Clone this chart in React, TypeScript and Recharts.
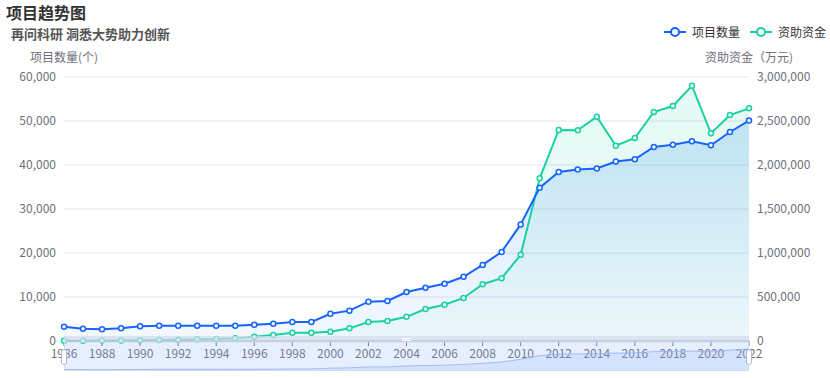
import { ComposedChart, AreaChart, Area, Line, XAxis, YAxis, CartesianGrid } from 'recharts';

const years = [
  1986, 1987, 1988, 1989, 1990, 1991, 1992, 1993, 1994, 1995, 1996, 1997, 1998,
  1999, 2000, 2001, 2002, 2003, 2004, 2005, 2006, 2007, 2008, 2009, 2010, 2011,
  2012, 2013, 2014, 2015, 2016, 2017, 2018, 2019, 2020, 2021, 2022,
];

// 项目数量(个)
const projects = [
  3250, 2800, 2650, 2880, 3330, 3480, 3480, 3480, 3480, 3480, 3700, 3930, 4320,
  4320, 6200, 6900, 8930, 9090, 11140, 12100, 13000, 14600, 17300, 20250, 26500, 34850,
  38400, 39000, 39200, 40800, 41300, 44100, 44600, 45400, 44500, 47500, 50100,
];

// 资助资金（万元)
const funding = [
  3000, 4000, 5000, 6000, 8000, 11000, 15000, 19000, 23000, 30000, 49000, 68000, 94000,
  94000, 106000, 144000, 216000, 227000, 275000, 364000, 412000, 489000, 645000, 714000, 980000, 1849000,
  2398000, 2394000, 2549000, 2219000, 2307000, 2602000, 2670000, 2901000, 2360000, 2568000, 2644000,
];

const xTicks = [1986, 1988, 1990, 1992, 1994, 1996, 1998, 2000, 2002, 2004, 2006, 2008, 2010, 2012, 2014, 2016, 2018, 2020, 2022];
const leftTicks = [0, 10000, 20000, 30000, 40000, 50000, 60000];
const rightTicks = [0, 500000, 1000000, 1500000, 2000000, 2500000, 3000000];

const BLUE = '#1664FF';
const GREEN = '#17D1A0';
const AXIS = '#6E7079';
const FONT = "'Noto Sans CJK SC', 'Noto Sans', sans-serif";

const data = years.map((year, i) => ({ year, projects: projects[i], funding: funding[i] }));

const fmt = (v: number) => v.toLocaleString('en-US');

const dot = (color: string) => ({ r: 2.5, stroke: color, strokeWidth: 1.5, fill: '#fff' });

function LegendIcon({ color }: { color: string }) {
  return (
    <svg width={22} height={12} style={{ display: 'block', flex: 'none' }}>
      <line x1={0} y1={6} x2={22} y2={6} stroke={color} strokeWidth={2} />
      <circle cx={11} cy={6} r={4} fill="#fff" stroke={color} strokeWidth={2} />
    </svg>
  );
}

export default function App() {
  return (
    <div style={{ position: 'fixed', left: 0, top: 0, width: 830, height: 378, background: '#fff', fontFamily: FONT }}>
      <div style={{ position: 'absolute', left: 6, top: 3, fontSize: 16, lineHeight: '18px', fontWeight: 'bold', color: '#333', whiteSpace: 'nowrap' }}>
        项目趋势图
      </div>
      <div style={{ position: 'absolute', left: 11, top: 26, fontSize: 13, lineHeight: '15px', fontWeight: 'bold', color: '#555', whiteSpace: 'nowrap' }}>
        再问科研 洞悉大势助力创新
      </div>

      {/* legend */}
      <div style={{ position: 'absolute', right: 4, top: 25, display: 'flex', alignItems: 'center', fontSize: 12, lineHeight: '14px', color: '#333', whiteSpace: 'nowrap' }}>
        <LegendIcon color={BLUE} />
        <span style={{ marginLeft: 6 }}>项目数量</span>
        <span style={{ width: 10 }} />
        <LegendIcon color={GREEN} />
        <span style={{ marginLeft: 6 }}>资助资金</span>
      </div>

      {/* axis names */}
      <div style={{ position: 'absolute', left: 4, width: 120, top: 50, textAlign: 'center', fontSize: 12, lineHeight: '14px', color: AXIS, whiteSpace: 'nowrap' }}>
        项目数量(个)
      </div>
      <div style={{ position: 'absolute', left: 689, width: 120, top: 50, textAlign: 'center', fontSize: 12, lineHeight: '14px', color: AXIS, whiteSpace: 'nowrap' }}>
        资助资金（万元)
      </div>

      <div style={{ position: 'absolute', left: 0, top: 0 }}>
        <ComposedChart width={830} height={378} data={data} margin={{ top: 77, right: 0, bottom: 0, left: 0 }}>
          <defs>
            <linearGradient id="gBlue" x1="0" y1="0" x2="0" y2="1">
              <stop offset="0%" stopColor="#1E7BEF" stopOpacity={0.32} />
              <stop offset="100%" stopColor="#1E7BEF" stopOpacity={0.08} />
            </linearGradient>
            <linearGradient id="gGreen" x1="0" y1="0" x2="0" y2="1">
              <stop offset="0%" stopColor={GREEN} stopOpacity={0.2} />
              <stop offset="100%" stopColor={GREEN} stopOpacity={0.06} />
            </linearGradient>
          </defs>
          <CartesianGrid yAxisId="left" vertical={false} stroke="#E0E6F1" />
          <XAxis
            dataKey="year"
            type="number"
            domain={[1986, 2022]}
            ticks={xTicks}
            interval={0}
            height={37}
            tickSize={5}
            tickMargin={3}
            stroke={AXIS}
            tick={{ fill: AXIS, fontSize: 12, fontFamily: FONT }}
          />
          <YAxis
            yAxisId="left"
            width={64}
            domain={[0, 60000]}
            ticks={leftTicks}
            axisLine={false}
            tickLine={false}
            tickSize={0}
            tickMargin={8}
            tickFormatter={fmt}
            tick={{ fill: AXIS, fontSize: 12, fontFamily: FONT }}
          />
          <YAxis
            yAxisId="right"
            orientation="right"
            width={81}
            domain={[0, 3000000]}
            ticks={rightTicks}
            axisLine={false}
            tickLine={false}
            tickSize={0}
            tickMargin={8}
            tickFormatter={fmt}
            tick={{ fill: AXIS, fontSize: 12, fontFamily: FONT }}
          />
          <Area yAxisId="left" type="linear" dataKey="projects" stroke="none" fill="url(#gBlue)" isAnimationActive={false} dot={false} activeDot={false} />
          <Area yAxisId="right" type="linear" dataKey="funding" stroke="none" fill="url(#gGreen)" isAnimationActive={false} dot={false} activeDot={false} />
          <Line yAxisId="right" type="linear" dataKey="funding" stroke={GREEN} strokeWidth={2} dot={dot(GREEN)} activeDot={false} isAnimationActive={false} />
          <Line yAxisId="left" type="linear" dataKey="projects" stroke={BLUE} strokeWidth={2} dot={dot(BLUE)} activeDot={false} isAnimationActive={false} />
        </ComposedChart>
      </div>

      {/* data zoom slider */}
      <div style={{ position: 'absolute', left: 64, top: 336, width: 685, height: 7, background: 'rgba(210,219,238,0.7)' }} />
      <div style={{ position: 'absolute', left: 402, top: 338, width: 9, height: 3, borderTop: '1px solid #fff', borderBottom: '1px solid #fff', boxSizing: 'border-box' }} />
      <div style={{ position: 'absolute', left: 64, top: 343, width: 685, height: 28, background: 'rgba(135,175,255,0.2)', borderLeft: '1px solid #D2DBEE', borderRight: '1px solid #D2DBEE', borderBottom: '1px solid #D2DBEE', boxSizing: 'border-box' }}>
        <AreaChart width={683} height={27} data={data} margin={{ top: 0, right: 0, bottom: 0, left: 0 }}>
          <XAxis dataKey="year" type="number" domain={[1986, 2022]} hide />
          <YAxis domain={[2000, 64000]} hide />
          <Area type="linear" dataKey="projects" stroke="#8FB0F7" strokeWidth={0.8} fill="#8FB0F7" fillOpacity={0.2} isAnimationActive={false} dot={false} activeDot={false} />
        </AreaChart>
      </div>
      <div style={{ position: 'absolute', left: 61, top: 349, width: 6, height: 16, background: '#fff', border: '1px solid #ACB8D1', borderRadius: 3, boxSizing: 'border-box' }} />
      <div style={{ position: 'absolute', left: 746, top: 349, width: 6, height: 16, background: '#fff', border: '1px solid #ACB8D1', borderRadius: 3, boxSizing: 'border-box' }} />
    </div>
  );
}
